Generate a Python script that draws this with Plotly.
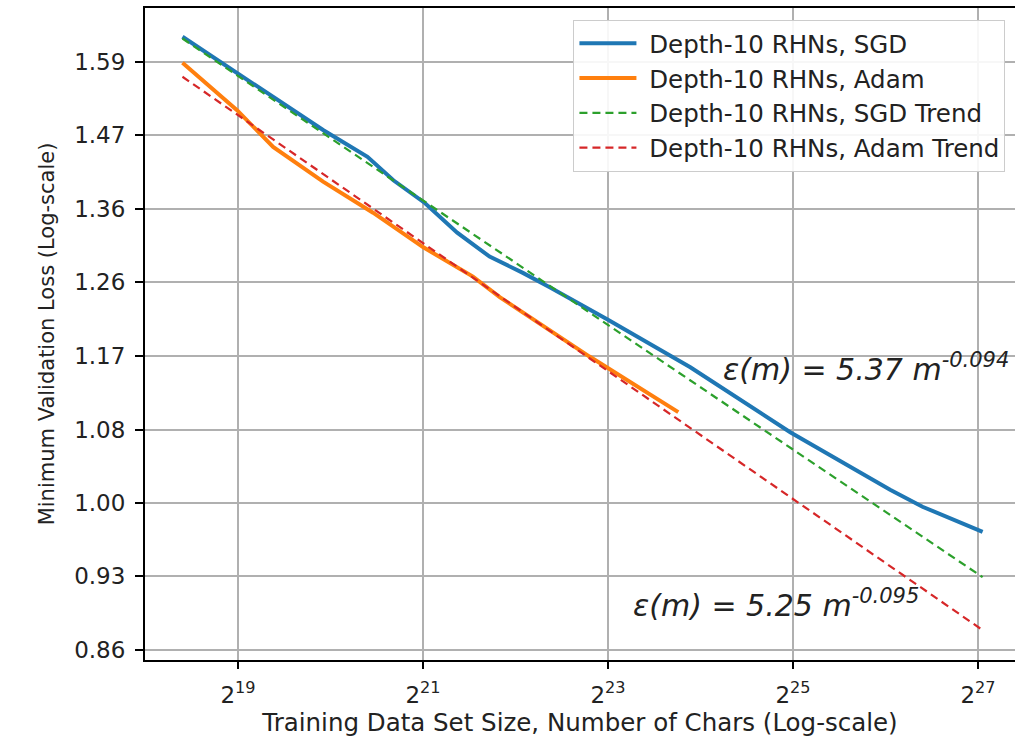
import math
import plotly.graph_objects as go

# ---- data (x as log2 of training-set size) ----
sgd_log2 = [18.40, 19.00, 19.38, 19.92, 20.40, 20.68, 21.02, 21.37, 21.72,
            22.08, 22.37, 22.62, 23.00, 23.89, 24.97, 26.05, 26.40, 27.05]
sgd_loss = [1.631, 1.569, 1.531, 1.479, 1.438, 1.403, 1.370, 1.328, 1.295,
            1.273, 1.254, 1.237, 1.212, 1.153, 1.077, 1.014, 0.996, 0.970]

adam_log2 = [18.40, 18.99, 19.38, 19.92, 20.46, 21.00, 21.54, 21.83, 22.80, 23.76]
adam_loss = [1.587, 1.510, 1.453, 1.401, 1.356, 1.308, 1.268, 1.241, 1.166, 1.100]

sgd_trend_log2 = [18.40, 27.05]
sgd_trend_loss = [1.628, 0.925]
adam_trend_log2 = [18.40, 27.05]
adam_trend_loss = [1.564, 0.875]

x_tick_exps = [19, 21, 23, 25, 27]
y_tick_vals = [0.857, 0.926, 1.000, 1.080, 1.167, 1.261, 1.362, 1.471, 1.589]
y_tick_text = ["0.86", "0.93", "1.00", "1.08", "1.17", "1.26", "1.36", "1.47", "1.59"]

labels = ["Depth-10 RHNs, SGD", "Depth-10 RHNs, Adam",
          "Depth-10 RHNs, SGD Trend", "Depth-10 RHNs, Adam Trend"]
eq_sgd = "ε(m) = 5.37 m<sup>-0.094</sup>"
eq_adam = "ε(m) = 5.25 m<sup>-0.095</sup>"

def sizes(exps):
    return [2 ** e for e in exps]

BLUE, ORANGE, GREEN, RED = "#1f77b4", "#ff7f0e", "#2ca02c", "#d62728"
FONT = "DejaVu Sans"
NB = "\u00a0"

fig = go.Figure()
fig.add_trace(go.Scatter(x=sizes(sgd_log2), y=sgd_loss, mode="lines", name=NB + labels[0],
                         line=dict(color=BLUE, width=4)))
fig.add_trace(go.Scatter(x=sizes(adam_log2), y=adam_loss, mode="lines", name=NB + labels[1],
                         line=dict(color=ORANGE, width=4)))
fig.add_trace(go.Scatter(x=sizes(sgd_trend_log2), y=sgd_trend_loss, mode="lines", name=NB + labels[2],
                         line=dict(color=GREEN, width=2.2, dash="8px,5px")))
fig.add_trace(go.Scatter(x=sizes(adam_trend_log2), y=adam_trend_loss, mode="lines", name=NB + labels[3],
                         line=dict(color=RED, width=2.2, dash="8px,5px")))

fig.add_annotation(x=math.log10(2 ** 24.22), y=math.log10(1.153), xref="x", yref="y",
                   text="<i>" + eq_sgd + "</i>", showarrow=False, xanchor="left", yanchor="middle",
                   font=dict(family=FONT, size=30, color="#222"))
fig.add_annotation(x=math.log10(2 ** 23.25), y=math.log10(0.8995), xref="x", yref="y",
                   text="<i>" + eq_adam + "</i>", showarrow=False, xanchor="left", yanchor="middle",
                   font=dict(family=FONT, size=30, color="#222"))

fig.update_layout(
    width=1015, height=737,
    margin=dict(l=145, r=0, t=8, b=77),
    paper_bgcolor="white", plot_bgcolor="white",
    font=dict(family=FONT, size=22, color="#222"),
    showlegend=True,
    legend=dict(x=0.989, y=0.982, xanchor="right", yanchor="top",
                bgcolor="rgba(255,255,255,0.9)", bordercolor="#cccccc", borderwidth=1,
                font=dict(family=FONT, size=24.5, color="#222"), itemwidth=57),
)
fig.update_xaxes(
    type="log", range=[math.log10(2 ** 17.995), math.log10(2 ** 27.40)],
    tickvals=[2 ** e for e in x_tick_exps],
    ticktext=["2<sup>%d</sup>" % e for e in x_tick_exps],
    ticks="outside", ticklen=7, tickwidth=1.5, tickcolor="black",
    showgrid=True, gridcolor="#b0b0b0", gridwidth=1.5,
    showline=True, linecolor="black", linewidth=2, mirror=True,
    title=dict(text="Training Data Set Size, Number of Chars (Log-scale)",
               font=dict(family=FONT, size=24.5), standoff=4),
    tickfont=dict(family=FONT, size=23),
    ticklabelstandoff=6,
    zeroline=False,
)
fig.update_yaxes(
    type="log", range=[math.log10(0.848), math.log10(1.681)],
    tickvals=y_tick_vals, ticktext=y_tick_text,
    ticks="outside", ticklen=8, tickwidth=1.5, tickcolor="black",
    showgrid=True, gridcolor="#b0b0b0", gridwidth=1.5,
    showline=True, linecolor="black", linewidth=2, mirror=False,
    title=dict(text="Minimum Validation Loss (Log-scale)",
               font=dict(family=FONT, size=21), standoff=14),
    tickfont=dict(family=FONT, size=23),
    ticklabelstandoff=5,
    zeroline=False,
)

fig.write_html("out.html")
